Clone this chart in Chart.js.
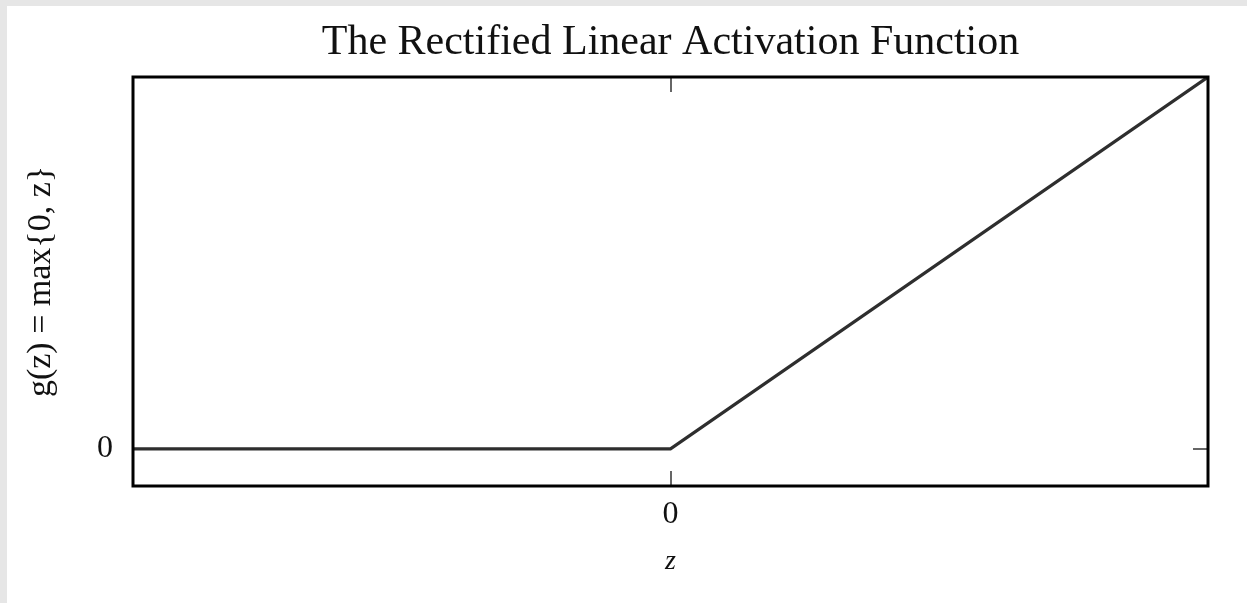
<!DOCTYPE html>
<html>
<head>
<meta charset="utf-8">
<script src="https://cdn.jsdelivr.net/npm/chart.js@4"></script>
<style>
  html, body { margin: 0; padding: 0; background: #e6e6e6; overflow: hidden; }
  #sheet { position: absolute; left: 7px; top: 6px; width: 1240px; height: 597px; background: #fff; }
</style>
</head>
<body>
<div id="sheet"><canvas id="relu" width="1240" height="597"></canvas></div>
<script>
const zValues = [-1, 0, 1];
const gValues = [0, 0, 1];
const xTicks = [0];
const yTicks = [0];

const serif = '"Liberation Serif", "DejaVu Serif", serif';

// small inward ticks under the line, black frame on top
const frame = {
  id: 'frame',
  beforeDatasetsDraw(chart) {
    const { ctx, chartArea: a, scales } = chart;
    ctx.save();
    ctx.strokeStyle = '#666';
    ctx.lineWidth = 2;
    xTicks.forEach(v => {
      const px = Math.round(scales.x.getPixelForValue(v));
      ctx.beginPath();
      ctx.moveTo(px, a.top); ctx.lineTo(px, a.top + 15);
      ctx.moveTo(px, a.bottom); ctx.lineTo(px, a.bottom - 15);
      ctx.stroke();
    });
    yTicks.forEach(v => {
      const py = Math.round(scales.y.getPixelForValue(v));
      ctx.beginPath();
      ctx.moveTo(a.left, py); ctx.lineTo(a.left + 15, py);
      ctx.moveTo(a.right, py); ctx.lineTo(a.right - 15, py);
      ctx.stroke();
    });
    ctx.restore();
  },
  afterDatasetsDraw(chart) {
    const { ctx, chartArea: a } = chart;
    ctx.save();
    ctx.strokeStyle = '#000';
    ctx.lineWidth = 3;
    ctx.strokeRect(a.left, a.top, a.right - a.left, a.bottom - a.top);
    ctx.restore();
  }
};

new Chart(document.getElementById('relu').getContext('2d'), {
  type: 'line',
  data: {
    datasets: [{
      data: zValues.map((z, i) => ({ x: z, y: gValues[i] })),
      borderColor: '#2e2e2e',
      borderWidth: 3.2,
      pointRadius: 0,
      tension: 0
    }]
  },
  options: {
    responsive: false,
    animation: false,
    layout: { padding: { left: 0, right: 39, top: 0, bottom: 0 } },
    plugins: {
      legend: { display: false },
      tooltip: { enabled: false },
      title: {
        display: true,
        fullSize: false,
        text: 'The Rectified Linear Activation Function',
        color: '#111',
        font: { family: serif, size: 42, weight: 'normal' },
        padding: { top: 12, bottom: 8.6 }
      }
    },
    scales: {
      x: {
        type: 'linear',
        min: -1, max: 1,
        afterBuildTicks: s => { s.ticks = xTicks.map(v => ({ value: v })); },
        afterFit: s => { s.height = 117; },
        grid: { display: false, drawTicks: false },
        border: { display: false },
        ticks: { color: '#111', font: { family: serif, size: 32 }, padding: 9 },
        title: {
          display: true, text: 'z', color: '#111',
          font: { family: serif, size: 28, style: 'italic' },
          padding: { top: 0, bottom: 25 }
        }
      },
      y: {
        type: 'linear',
        min: -0.1, max: 1,
        afterBuildTicks: s => { s.ticks = yTicks.map(v => ({ value: v })); },
        afterFit: s => { s.width = 126; },
        grid: { display: false, drawTicks: false },
        border: { display: false },
        ticks: { color: '#111', font: { family: serif, size: 32 }, padding: 20 },
        title: {
          display: true, text: 'g(z) = max{0, z}', color: '#111',
          font: { family: serif, size: 34 },
          padding: { top: 14, bottom: 0 }
        }
      }
    }
  },
  plugins: [frame]
});
</script>
</body>
</html>
